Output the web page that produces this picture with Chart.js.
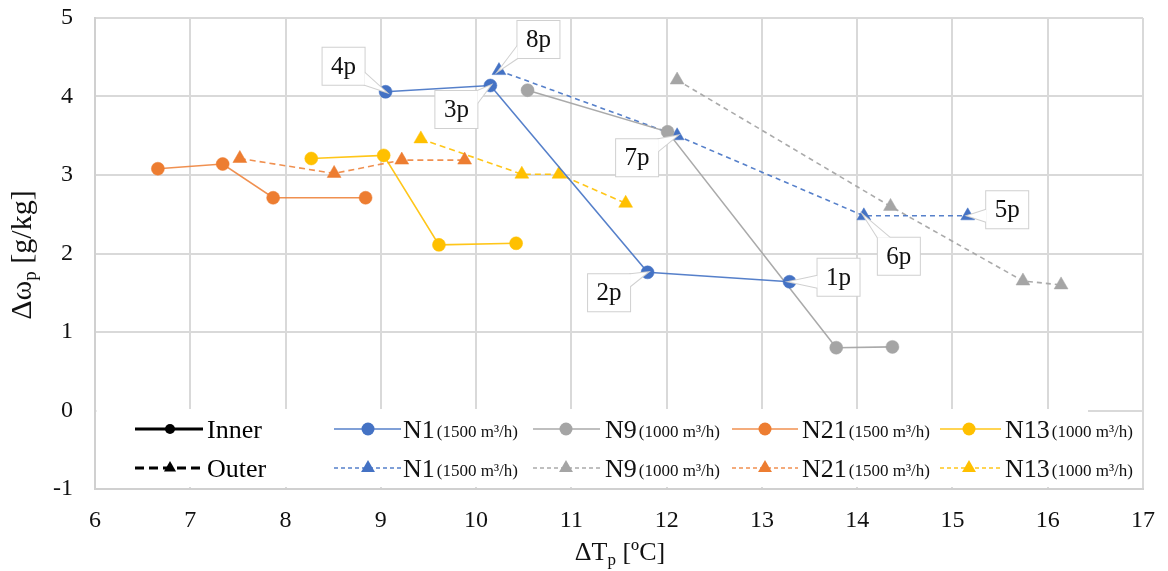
<!DOCTYPE html>
<html>
<head>
<meta charset="utf-8">
<script src="https://cdn.jsdelivr.net/npm/chart.js@4.4.1/dist/chart.umd.min.js"></script>
<style>
html,body{margin:0;padding:0;background:#fff;}
#wrap{width:1168px;height:571px;position:relative;}
</style>
</head>
<body>
<div id="wrap"><canvas id="c" width="1168" height="571"></canvas></div>
<script>
// ---------- DATA ----------
const xTickValues = [6, 7, 8, 9, 10, 11, 12, 13, 14, 15, 16, 17];
const yTickValues = [-1, 0, 1, 2, 3, 4, 5];

const seriesNames = ['N1', 'N9', 'N21', 'N13'];
const seriesFlows = ['(1500 m³/h)', '(1000 m³/h)', '(1500 m³/h)', '(1000 m³/h)'];
const typeNames = ['Inner', 'Outer'];

const n1InnerX = [9.05, 10.15, 11.80, 13.29];
const n1InnerY = [4.06, 4.14, 1.76, 1.64];
const n1InnerLabels = ['4p', '3p', '2p', '1p'];

const n1OuterX = [10.24, 12.11, 14.07, 15.16];
const n1OuterY = [4.33, 3.50, 2.48, 2.48];
const n1OuterLabels = ['8p', '7p', '6p', '5p'];

const n9InnerX = [10.54, 12.01, 13.78, 14.37];
const n9InnerY = [4.08, 3.55, 0.80, 0.81];

const n9OuterX = [12.11, 14.35, 15.74, 16.14];
const n9OuterY = [4.21, 2.60, 1.65, 1.60];

const n21InnerX = [6.66, 7.34, 7.87, 8.84];
const n21InnerY = [3.08, 3.14, 2.71, 2.71];

const n21OuterX = [7.52, 8.51, 9.22, 9.88];
const n21OuterY = [3.21, 3.02, 3.19, 3.19];

const n13InnerX = [8.27, 9.03, 9.61, 10.42];
const n13InnerY = [3.21, 3.25, 2.11, 2.13];

const n13OuterX = [9.42, 10.48, 10.87, 11.57];
const n13OuterY = [3.46, 3.01, 3.01, 2.64];

const xTitleMain = 'ΔT', xTitleSub = 'p', xTitleRest = ' [ºC]';
const yTitleMain = 'Δω', yTitleSub = 'p', yTitleRest = ' [g/kg]';

// ---------- STYLE ----------
const COLORS = ['#4472C4', '#A5A5A5', '#ED7D31', '#FFC000'];
const LINE_COLORS = ['rgba(68,114,196,0.9)', 'rgba(165,165,165,0.95)', 'rgba(237,125,49,0.85)', 'rgba(255,192,0,0.9)'];
const SERIF = '"Liberation Serif", "Times New Roman", serif';
const innerXs = [n1InnerX, n9InnerX, n21InnerX, n13InnerX];
const innerYs = [n1InnerY, n9InnerY, n21InnerY, n13InnerY];
const outerXs = [n1OuterX, n9OuterX, n21OuterX, n13OuterX];
const outerYs = [n1OuterY, n9OuterY, n21OuterY, n13OuterY];

function pts(xs, ys) { return xs.map((x, i) => ({ x: x, y: ys[i] })); }

const datasets = [];
for (let i = 0; i < 4; i++) {
  datasets.push({
    label: seriesNames[i] + ' ' + seriesFlows[i] + ' ' + typeNames[0],
    data: pts(innerXs[i], innerYs[i]),
    showLine: true,
    borderColor: LINE_COLORS[i],
    backgroundColor: COLORS[i],
    borderWidth: 1.6,
    pointStyle: 'circle',
    pointRadius: 6.5,
    pointBackgroundColor: COLORS[i],
    pointBorderColor: COLORS[i],
    pointBorderWidth: 0.5
  });
}
const dashes = [[5, 4], [5, 4], [6, 4], [6, 4]];
for (let i = 0; i < 4; i++) {
  datasets.push({
    label: seriesNames[i] + ' ' + seriesFlows[i] + ' ' + typeNames[1],
    data: pts(outerXs[i], outerYs[i]),
    showLine: true,
    borderColor: LINE_COLORS[i],
    backgroundColor: COLORS[i],
    borderWidth: 1.6,
    borderDash: dashes[i],
    pointStyle: 'triangle',
    pointRadius: 8,
    pointBackgroundColor: COLORS[i],
    pointBorderColor: COLORS[i],
    pointBorderWidth: 0.5
  });
}

// callout box centre offsets (px) from their point
const calloutOffsets = {
  '4p': [-42, -25.5], '3p': [-34, 24], '2p': [-38.5, 20.5], '1p': [49, -4.5],
  '8p': [39.5, -31], '7p': [-40, 22], '6p': [35, 40.5], '5p': [39.5, -6]
};
const BOX_W = 42, BOX_H = 37;

function drawCallout(ctx, px, py, text) {
  const off = calloutOffsets[text];
  const cx = px + off[0], cy = py + off[1];
  const l = cx - BOX_W / 2, r = cx + BOX_W / 2, t = cy - BOX_H / 2, b = cy + BOX_H / 2;
  let b1, b2;
  const dx = px < l ? l - px : (px > r ? px - r : 0);
  const dy = py < t ? t - py : (py > b ? py - b : 0);
  const clamp = (v, a, c) => Math.max(a, Math.min(c, v));
  if (dx >= dy) {
    const ex = px < l ? l : r;
    const yc = clamp(py, t + 6, b - 6);
    b1 = [ex, yc - 6]; b2 = [ex, yc + 6];
  } else {
    const ey = py < t ? t : b;
    const xc = clamp(px, l + 6, r - 6);
    b1 = [xc - 6, ey]; b2 = [xc + 6, ey];
  }
  ctx.save();
  ctx.lineWidth = 2;
  ctx.strokeStyle = '#d0d0d0';
  ctx.fillStyle = '#ffffff';
  ctx.lineJoin = 'miter';
  ctx.beginPath();
  ctx.moveTo(b1[0], b1[1]); ctx.lineTo(px, py); ctx.lineTo(b2[0], b2[1]);
  ctx.closePath();
  ctx.stroke();
  ctx.beginPath();
  ctx.rect(l, t, BOX_W, BOX_H);
  ctx.stroke();
  ctx.fill();
  ctx.beginPath();
  ctx.moveTo(b1[0], b1[1]); ctx.lineTo(px, py); ctx.lineTo(b2[0], b2[1]);
  ctx.closePath();
  ctx.fill();
  ctx.fillStyle = '#111';
  ctx.font = '25px ' + SERIF;
  ctx.textAlign = 'center';
  ctx.textBaseline = 'middle';
  ctx.fillText(text, cx, cy + 1);
  ctx.restore();
}

function drawSubText(ctx, x, y, main, sub, rest, big, small, align) {
  ctx.font = big + 'px ' + SERIF;
  const w1 = ctx.measureText(main).width;
  const w3 = ctx.measureText(rest).width;
  ctx.font = small + 'px ' + SERIF;
  const w2 = ctx.measureText(sub).width;
  const total = w1 + w2 + w3;
  let sx = align === 'center' ? x - total / 2 : x;
  ctx.textAlign = 'left';
  ctx.textBaseline = 'alphabetic';
  ctx.font = big + 'px ' + SERIF;
  ctx.fillText(main, sx, y);
  ctx.font = small + 'px ' + SERIF;
  ctx.fillText(sub, sx + w1, y + 5);
  ctx.font = big + 'px ' + SERIF;
  ctx.fillText(rest, sx + w1 + w2, y);
}

function drawMarker(ctx, style, x, y, r, color) {
  ctx.fillStyle = color;
  ctx.beginPath();
  if (style === 'circle') {
    ctx.arc(x, y, r, 0, Math.PI * 2);
  } else {
    ctx.moveTo(x, y - r);
    ctx.lineTo(x + 0.866 * r, y + 0.5 * r);
    ctx.lineTo(x - 0.866 * r, y + 0.5 * r);
    ctx.closePath();
  }
  ctx.fill();
}

const decoPlugin = {
  id: 'deco',
  afterDatasetsDraw(chart) {
    const ctx = chart.ctx;
    const m0 = chart.getDatasetMeta(0);
    n1InnerLabels.forEach((lab, j) => drawCallout(ctx, m0.data[j].x, m0.data[j].y, lab));
    const m4 = chart.getDatasetMeta(4);
    n1OuterLabels.forEach((lab, j) => drawCallout(ctx, m4.data[j].x, m4.data[j].y, lab));

    ctx.save();
    ctx.fillStyle = '#ffffff';
    ctx.fillRect(96.5, 409, 1088 - 96.5, 78);
    ctx.fillRect(1088, 412.5, 1142 - 1088, 74.5);

    const rows = [429, 468];
    const bases = [438, 477];
    for (let k = 0; k < 2; k++) {
      ctx.strokeStyle = '#000';
      ctx.lineWidth = 3;
      ctx.setLineDash(k === 0 ? [] : [9, 5]);
      ctx.beginPath(); ctx.moveTo(135, rows[k]); ctx.lineTo(203, rows[k]); ctx.stroke();
      ctx.setLineDash([]);
      drawMarker(ctx, k === 0 ? 'circle' : 'triangle', 170, rows[k], k === 0 ? 5 : 7, '#000');
      ctx.fillStyle = '#000';
      ctx.font = '26px ' + SERIF;
      ctx.textAlign = 'left';
      ctx.textBaseline = 'alphabetic';
      ctx.fillText(typeNames[k], 207, bases[k]);
    }
    const lineStarts = [334, 533, 732, 940];
    const lineEnds = [401, 600, 798, 1001];
    const markX = [368, 566, 765, 969];
    const textX = [403, 605, 802, 1005];
    for (let k = 0; k < 2; k++) {
      for (let i = 0; i < 4; i++) {
        ctx.strokeStyle = LINE_COLORS[i];
        ctx.lineWidth = 1.6;
        ctx.setLineDash(k === 0 ? [] : [4, 3]);
        ctx.beginPath(); ctx.moveTo(lineStarts[i], rows[k]); ctx.lineTo(lineEnds[i], rows[k]); ctx.stroke();
        ctx.setLineDash([]);
        drawMarker(ctx, k === 0 ? 'circle' : 'triangle', markX[i], rows[k], k === 0 ? 6.5 : 8, COLORS[i]);
        ctx.fillStyle = '#111';
        ctx.font = '26px ' + SERIF;
        ctx.textAlign = 'left';
        ctx.textBaseline = 'alphabetic';
        ctx.fillText(seriesNames[i], textX[i], bases[k]);
        const w = ctx.measureText(seriesNames[i]).width;
        ctx.font = '17px ' + SERIF;
        ctx.fillText(seriesFlows[i], textX[i] + w + 2, bases[k] - 1);
      }
    }

    ctx.fillStyle = '#111';
    drawSubText(ctx, 620, 560, xTitleMain, xTitleSub, xTitleRest, 26, 17, 'center');
    ctx.translate(31, 255);
    ctx.rotate(-Math.PI / 2);
    drawSubText(ctx, 0, 0, yTitleMain, yTitleSub, yTitleRest, 30, 19, 'center');
    ctx.restore();
  }
};

const gridColor = '#d9d9d9';
new Chart(document.getElementById('c'), {
  type: 'scatter',
  data: { datasets: datasets },
  options: {
    responsive: false,
    animation: false,
    events: [],
    layout: { padding: { top: 18, right: 25, left: 0, bottom: 0 } },
    plugins: { legend: { display: false }, tooltip: { enabled: false }, title: { display: false } },
    scales: {
      x: {
        type: 'linear', min: 6, max: 17,
        afterFit: s => { s.height = 82; s.paddingLeft = 0; s.paddingRight = 0; },
        afterBuildTicks: s => { s.ticks = xTickValues.map(v => ({ value: v })); },
        grid: { color: gridColor, lineWidth: 2, drawTicks: false },
        border: { display: true, color: '#d0d0d0', width: 2 },
        ticks: { color: '#111', padding: 17, font: { family: SERIF, size: 24 }, maxRotation: 0, autoSkip: false }
      },
      y: {
        type: 'linear', min: -1, max: 5,
        afterFit: s => { s.width = 95; s.paddingTop = 0; s.paddingBottom = 0; },
        afterBuildTicks: s => { s.ticks = yTickValues.map(v => ({ value: v })); },
        grid: { color: gridColor, lineWidth: 2, drawTicks: false },
        border: { display: true, color: '#d0d0d0', width: 2 },
        ticks: { color: '#111', padding: 22, font: { family: SERIF, size: 24 }, autoSkip: false }
      }
    }
  },
  plugins: [decoPlugin]
});
</script>
</body>
</html>
